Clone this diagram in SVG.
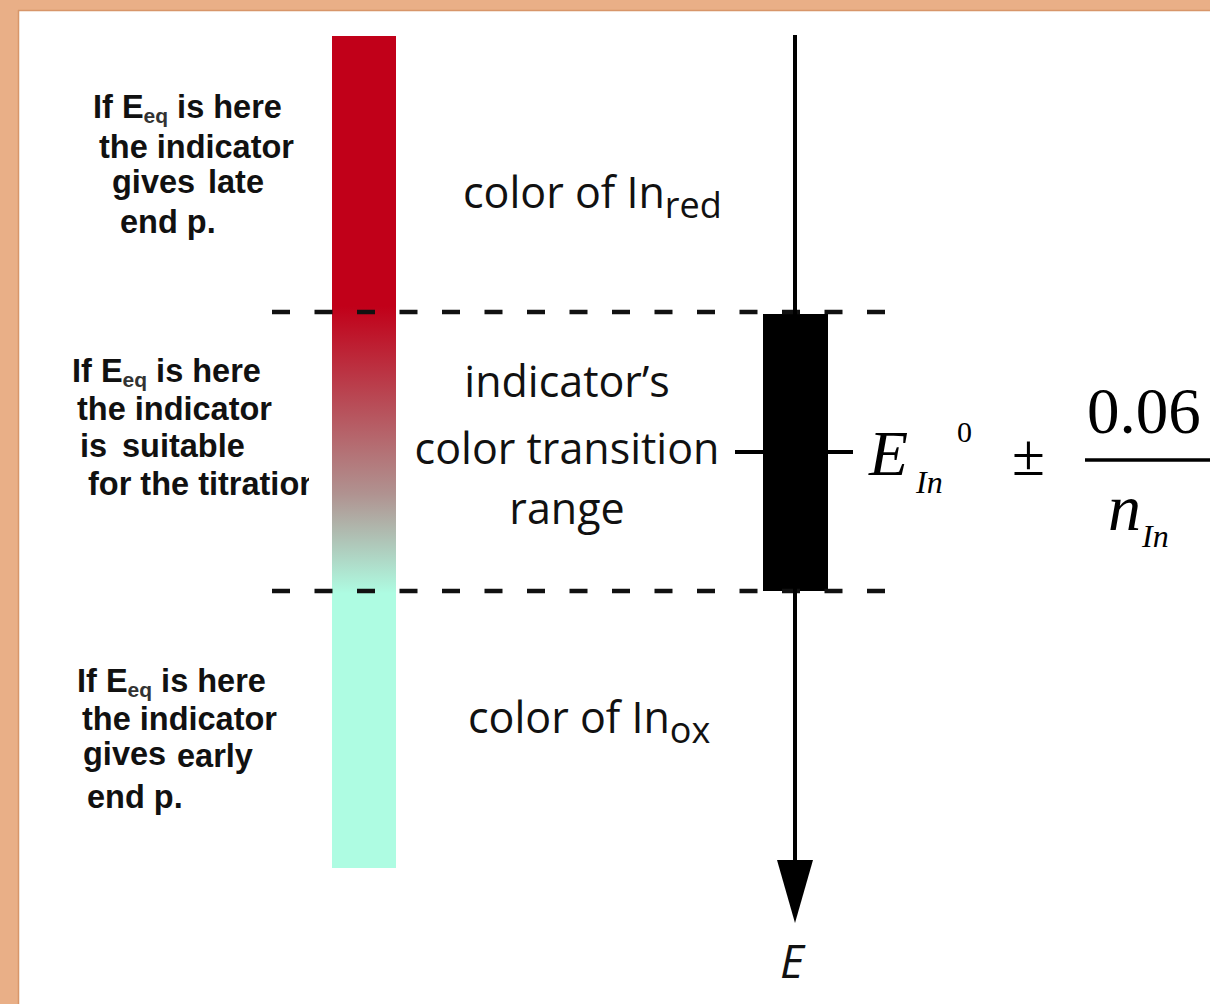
<svg xmlns="http://www.w3.org/2000/svg" width="1210" height="1004" viewBox="0 0 1210 1004">
  <defs>
    <style>
      .lbl { font-family: "Liberation Sans", Arial, sans-serif; font-weight: bold; font-size: 32.5px; fill: #111; }
      .sub { font-size: 21px; font-weight: bold; fill: #333; }
      .mid { font-family: "Open Sans", "Noto Sans", sans-serif; font-size: 43px; fill: #111; }
      .msub { font-size: 36px; }
      .math { font-family: "Liberation Serif", "Times New Roman", serif; fill: #000; }
      .dash { stroke: #111; stroke-width: 4.5; stroke-dasharray: 18 24.5; fill: none; }
      .axis { stroke: #000; stroke-width: 4; fill: none; }
    </style>
    <linearGradient id="barGrad" x1="0" y1="36" x2="0" y2="868" gradientUnits="userSpaceOnUse">
      <stop offset="0" stop-color="#C10019"/>
      <stop offset="0.325" stop-color="#C10019"/>
      <stop offset="0.55" stop-color="#B09290"/>
      <stop offset="0.67" stop-color="#AEFCE2"/>
      <stop offset="1" stop-color="#AEFCE2"/>
    </linearGradient>
    <clipPath id="clipLeft">
      <rect x="0" y="0" width="309" height="1004"/>
    </clipPath>
  </defs>

  <!-- frame -->
  <rect x="0" y="0" width="1210" height="1004" fill="#E9AF87"/>
  <rect x="18" y="10" width="1192" height="994" fill="#FFFFFF"/>
  <line x1="18" y1="10.5" x2="1210" y2="10.5" stroke="#D8966A" stroke-width="1.5"/>
  <line x1="18.5" y1="10" x2="18.5" y2="1004" stroke="#D8966A" stroke-width="1.5"/>

  <!-- color bar -->
  <g id="colorBar">
    <rect x="332" y="36" width="64" height="832" fill="url(#barGrad)"/>
  </g>

  <!-- transition range box -->
  <g id="rangeBox">
    <rect x="763" y="314" width="65" height="277" fill="#000"/>
  </g>

  <!-- connectors -->
  <g id="connectors">
    <line class="dash" x1="272" y1="312" x2="892" y2="312"/>
    <line class="dash" x1="272" y1="591" x2="892" y2="591"/>
    <line class="axis" x1="795" y1="35" x2="795" y2="870"/>
    <polygon points="777,860 813,860 795,923" fill="#000"/>
    <line class="axis" x1="735" y1="452" x2="763" y2="452"/>
    <line class="axis" x1="828" y1="452" x2="853" y2="452"/>
  </g>

  <!-- left labels -->
  <g id="labelLate">
    <text class="lbl" x="93" y="118">If E<tspan class="sub" dy="5">eq</tspan><tspan dy="-5"> is here</tspan></text>
    <text class="lbl" x="99" y="158">the indicator</text>
    <text class="lbl" y="193"><tspan x="112">gives</tspan><tspan x="208">late</tspan></text>
    <text class="lbl" x="120" y="233">end p.</text>
  </g>
  <g id="labelSuitable">
    <text class="lbl" x="72" y="382">If E<tspan class="sub" dy="5">eq</tspan><tspan dy="-5"> is here</tspan></text>
    <text class="lbl" x="77" y="420">the indicator</text>
    <text class="lbl" y="457"><tspan x="80">is</tspan><tspan x="122">suitable</tspan></text>
    <text class="lbl" x="88" y="495" clip-path="url(#clipLeft)">for the titration</text>
  </g>
  <g id="labelEarly">
    <text class="lbl" x="77" y="692">If E<tspan class="sub" dy="5">eq</tspan><tspan dy="-5"> is here</tspan></text>
    <text class="lbl" x="82" y="730">the indicator</text>
    <text class="lbl" y="765"><tspan x="83">gives</tspan><tspan x="177" dy="2">early</tspan></text>
    <text class="lbl" x="87" y="808">end p.</text>
  </g>

  <!-- middle labels -->
  <g id="labelRed">
    <text class="mid" x="463" y="208">color of In<tspan class="msub" dy="10">red</tspan></text>
  </g>
  <g id="labelRange">
    <text class="mid" x="567" y="397" text-anchor="middle">indicator’s</text>
    <text class="mid" x="567" y="464" text-anchor="middle">color transition</text>
    <text class="mid" x="567" y="524" text-anchor="middle">range</text>
  </g>
  <g id="labelOx">
    <text class="mid" x="468" y="733">color of In<tspan class="msub" dy="10">ox</tspan></text>
  </g>

  <!-- formula -->
  <g id="formula">
    <text class="math" x="869" y="475" font-size="64" font-style="italic">E</text>
    <text class="math" x="916" y="493" font-size="32" font-style="italic">In</text>
    <text class="math" x="957" y="442" font-size="30">0</text>
    <text class="math" x="1012" y="475" font-size="60">±</text>
    <text class="math" x="1087" y="433" font-size="65">0.06</text>
    <line x1="1085" y1="460" x2="1215" y2="460" stroke="#000" stroke-width="3.5"/>
    <text class="math" x="1108" y="530" font-size="66" font-style="italic">n</text>
    <text class="math" x="1142" y="547" font-size="32" font-style="italic">In</text>
  </g>

  <!-- axis label -->
  <g id="axisLabel">
    <text x="780" y="978" font-family="'Open Sans', 'Noto Sans', sans-serif" font-style="italic" font-size="46" fill="#111">E</text>
  </g>
</svg>
